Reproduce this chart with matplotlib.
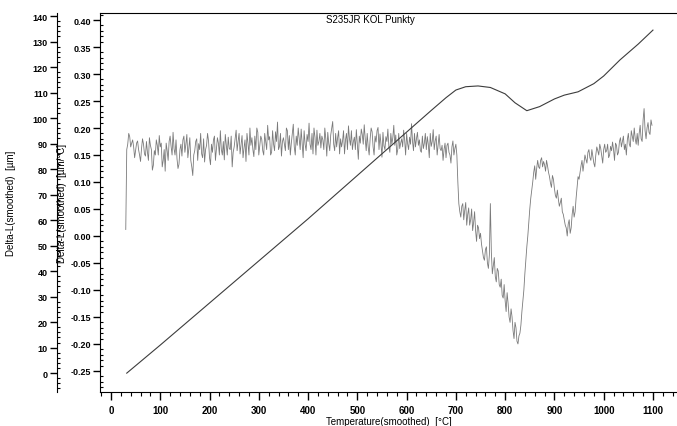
import numpy as np
import matplotlib
matplotlib.use('Agg')
from matplotlib import pyplot as plt
from matplotlib.ticker import MultipleLocator

plt.rcParams['font.family'] = ['Liberation Sans', 'DejaVu Sans']

# Delta-L (smoothed) curve, read at its shape points  [um]
dl_temp = [32, 100, 200, 300, 400, 500, 600, 650, 680, 700, 720, 745, 770,
           800, 820, 844, 870, 900, 920, 948, 980, 1000, 1033, 1070, 1100]
dl_val = [0.0, 11.0, 27.5, 44.0, 60.5, 77.5, 94.5, 103.0, 108.0, 111.0, 112.3,
          112.6, 112.0, 109.5, 106.0, 102.9, 104.5, 107.5, 109.0, 110.3, 113.5,
          116.5, 122.8, 129.0, 134.5]

# derivative trace, read every 4 degC from 30 to 1098  [um/degC]
der_temp = np.arange(30, 1099, 4)
der_val = [
    0.012, 0.170, 0.184, 0.172, 0.165, 0.158, 0.176, 0.150, 0.162, 0.170,
    0.148, 0.155, 0.182, 0.160, 0.131, 0.150, 0.168, 0.186, 0.172, 0.140,
    0.120, 0.158, 0.175, 0.166, 0.192, 0.150, 0.143, 0.133, 0.170, 0.178,
    0.155, 0.188, 0.162, 0.140, 0.112, 0.158, 0.180, 0.171, 0.190, 0.145,
    0.137, 0.168, 0.176, 0.132, 0.155, 0.185, 0.162, 0.172, 0.195, 0.150,
    0.141, 0.170, 0.183, 0.160, 0.128, 0.165, 0.196, 0.175, 0.152, 0.186,
    0.163, 0.138, 0.172, 0.200, 0.182, 0.147, 0.160, 0.192, 0.168, 0.179,
    0.150, 0.175, 0.205, 0.184, 0.155, 0.170, 0.193, 0.211, 0.166, 0.148,
    0.182, 0.158, 0.195, 0.186, 0.172, 0.207, 0.150, 0.168, 0.180, 0.198,
    0.145, 0.170, 0.188, 0.209, 0.160, 0.152, 0.183, 0.196, 0.175, 0.163,
    0.178, 0.200, 0.148, 0.171, 0.187, 0.212, 0.158, 0.165, 0.195, 0.180,
    0.176, 0.152, 0.190, 0.204, 0.168, 0.160, 0.183, 0.197, 0.142, 0.172,
    0.188, 0.206, 0.158, 0.165, 0.180, 0.193, 0.150, 0.174, 0.201, 0.189,
    0.146, 0.167, 0.184, 0.198, 0.155, 0.170, 0.205, 0.187, 0.160, 0.162,
    0.180, 0.196, 0.150, 0.171, 0.183, 0.208, 0.158, 0.165, 0.192, 0.178,
    0.155, 0.162, 0.190, 0.184, 0.145, 0.166, 0.197, 0.176, 0.150, 0.188,
    0.158, 0.140, 0.172, 0.168, 0.155, 0.135, 0.176, 0.162, 0.150, 0.060,
    0.035, 0.060, 0.048, 0.020, 0.052, 0.030, 0.010, 0.045, -0.010, 0.015,
    0.005, -0.028, -0.045, -0.020, -0.060, 0.060, -0.070, -0.040, -0.085, -0.065,
    -0.095, -0.110, -0.090, -0.140, -0.125, -0.160, -0.150, -0.190, -0.170, -0.200,
    -0.180, -0.140, -0.100, -0.045, 0.000, 0.050, 0.085, 0.118, 0.105, 0.140,
    0.125, 0.145, 0.138, 0.120, 0.130, 0.110, 0.090, 0.105, 0.075, 0.085,
    0.055, 0.070, 0.040, 0.020, 0.000, 0.030, 0.015, 0.055, 0.045, 0.090,
    0.105, 0.130, 0.120, 0.150, 0.135, 0.160, 0.140, 0.148, 0.128, 0.165,
    0.150, 0.162, 0.135, 0.170, 0.158, 0.145, 0.166, 0.174, 0.140, 0.168,
    0.155, 0.182, 0.175, 0.160, 0.150, 0.190, 0.165, 0.185, 0.200, 0.170,
    0.168, 0.205, 0.175, 0.236, 0.180, 0.210, 0.188, 0.205,
]

# the same trace read half way between, 32 to 1096 degC
mid_temp = np.arange(32, 1097, 4)
mid_val = [
    0.160, 0.190, 0.165, 0.178, 0.145, 0.172, 0.160, 0.138, 0.180, 0.152,
    0.175, 0.140, 0.168, 0.122, 0.158, 0.178, 0.150, 0.165, 0.128, 0.160,
    0.172, 0.140, 0.185, 0.150, 0.162, 0.178, 0.125, 0.160, 0.148, 0.185,
    0.170, 0.145, 0.182, 0.128, 0.150, 0.175, 0.140, 0.160, 0.152, 0.180,
    0.160, 0.190, 0.145, 0.170, 0.178, 0.140, 0.182, 0.150, 0.160, 0.175,
    0.188, 0.150, 0.162, 0.185, 0.155, 0.180, 0.158, 0.190, 0.170, 0.145,
    0.178, 0.190, 0.150, 0.168, 0.160, 0.185, 0.200, 0.150, 0.185, 0.158,
    0.190, 0.160, 0.178, 0.150, 0.195, 0.158, 0.175, 0.160, 0.190, 0.175,
    0.170, 0.200, 0.160, 0.150, 0.190, 0.165, 0.185, 0.200, 0.160, 0.170,
    0.195, 0.158, 0.175, 0.170, 0.190, 0.200, 0.150, 0.168, 0.190, 0.185,
    0.160, 0.180, 0.192, 0.158, 0.200, 0.170, 0.190, 0.182, 0.152, 0.165,
    0.195, 0.178, 0.160, 0.180, 0.195, 0.175, 0.160, 0.170, 0.185, 0.198,
    0.170, 0.180, 0.190, 0.150, 0.200, 0.165, 0.185, 0.195, 0.160, 0.170,
    0.192, 0.160, 0.175, 0.165, 0.190, 0.182, 0.168, 0.150, 0.190, 0.172,
    0.165, 0.178, 0.190, 0.160, 0.170, 0.175, 0.190, 0.180, 0.168, 0.158,
    0.185, 0.172, 0.160, 0.170, 0.190, 0.175, 0.160, 0.185, 0.170, 0.162,
    0.168, 0.160, 0.145, 0.172, 0.150, 0.165, 0.150, 0.170, 0.100, 0.045,
    0.055, 0.030, 0.062, 0.040, 0.020, 0.050, 0.025, 0.010, 0.020, -0.005,
    -0.015, -0.040, -0.025, -0.050, -0.035, -0.030, -0.055, -0.075, -0.060, -0.090,
    -0.080, -0.115, -0.120, -0.105, -0.150, -0.135, -0.175, -0.160, -0.195, -0.185,
    -0.165, -0.120, -0.070, -0.020, 0.025, 0.070, 0.100, 0.130, 0.125, 0.128,
    0.140, 0.128, 0.132, 0.140, 0.118, 0.098, 0.112, 0.088, 0.070, 0.068,
    0.062, 0.045, 0.030, 0.015, 0.022, 0.005, 0.040, 0.035, 0.070, 0.110,
    0.118, 0.140, 0.135, 0.142, 0.155, 0.145, 0.160, 0.135, 0.150, 0.158,
    0.170, 0.148, 0.160, 0.155, 0.170, 0.150, 0.158, 0.160, 0.172, 0.150,
    0.175, 0.165, 0.185, 0.170, 0.178, 0.170, 0.195, 0.175, 0.180, 0.190,
    0.190, 0.180, 0.215, 0.195, 0.200, 0.192, 0.215,
]

title = 'S235JR KOL Punkty'
x_label = 'Temperature(smoothed)  [°C]'
outer_label = 'Delta-L(smoothed)  [µm]'
inner_label = 'Delta-L(smoothed)  [µm/°C]'

# merge both readings into one trace
all_temp = np.concatenate([der_temp, mid_temp])
all_val = np.concatenate([der_val, mid_val])
order = np.argsort(all_temp)

fig = plt.figure(figsize=(6.77, 4.27), dpi=100)
ax = fig.add_axes([0.1477, 0.0796, 0.8523, 0.8876])
ax2 = ax.twinx()

# derivative on the inner axis
ax.plot(all_temp[order], all_val[order], color='#7a7a7a', lw=0.6)
ax.set_xlim(-22.3, 1148.8)
ax.set_ylim(-0.289, 0.413)
ax.xaxis.set_major_locator(MultipleLocator(100))
ax.xaxis.set_minor_locator(MultipleLocator(20))
ax.yaxis.set_major_locator(MultipleLocator(0.05))
ax.yaxis.set_minor_locator(MultipleLocator(0.01))
ax.yaxis.set_major_formatter(lambda v, p: '%.2f' % v)
ax.spines['right'].set_visible(False)
ax.tick_params(axis='x', which='major', direction='out', length=6, width=1, labelsize=7, pad=3)
ax.tick_params(axis='x', which='minor', direction='out', length=3, width=0.8)
ax.tick_params(axis='y', which='major', direction='out', length=5, width=1, labelsize=6.5, pad=1.5)
ax.tick_params(axis='y', which='minor', direction='in', length=2.5, width=0.8)
for t in ax.get_xticklabels() + ax.get_yticklabels():
    t.set_fontweight('bold')
ax.set_xlabel(x_label, fontsize=7, labelpad=0)
ax.xaxis.set_label_coords(0.5, -0.062)
ax.set_ylabel(inner_label, fontsize=7)
ax.yaxis.set_label_coords(-0.058, 0.5)

# Delta-L on the outer axis
ax2.plot(dl_temp, dl_val, color='#3c3c3c', lw=0.8)
ax2.set_ylim(-7.4, 141.2)
ax2.yaxis.tick_left()
ax2.yaxis.set_label_position('left')
for s in ['right', 'top', 'bottom']:
    ax2.spines[s].set_visible(False)
ax2.spines['left'].set_position(('axes', -0.0745))
ax2.yaxis.set_major_locator(MultipleLocator(10))
ax2.yaxis.set_minor_locator(MultipleLocator(2))
ax2.tick_params(axis='y', which='major', direction='out', length=5, width=1, labelsize=6.5, pad=1.5)
ax2.tick_params(axis='y', which='minor', direction='in', length=2.5, width=0.8)
for t in ax2.get_yticklabels():
    t.set_fontweight('bold')
ax2.set_ylabel(outer_label, fontsize=7)
ax2.yaxis.set_label_coords(-0.145, 0.5)

ax.text(0.468, 0.984, title, transform=ax.transAxes, ha='center', va='center', fontsize=7)

fig.savefig('out.png', dpi=100)
